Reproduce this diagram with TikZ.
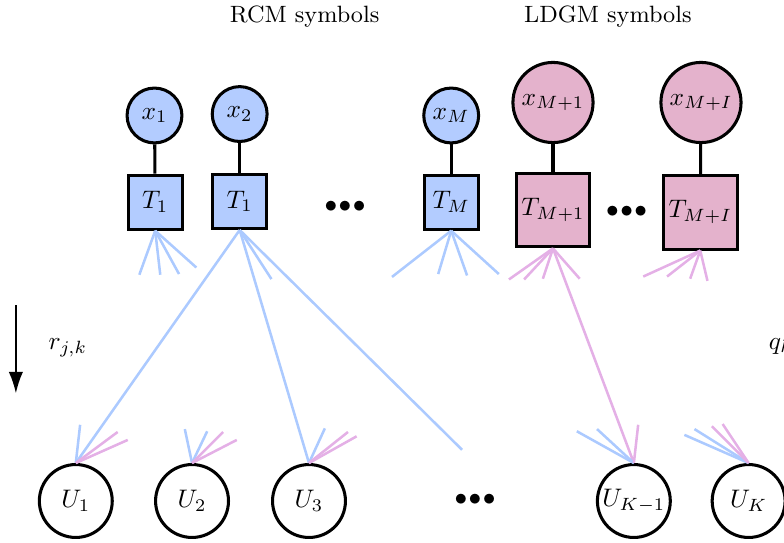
\documentclass[tikz,border=0pt]{standalone}
\usepackage{amsmath}
\usepackage{tikz}
\usetikzlibrary{arrows.meta}

\definecolor{rcmblue}{RGB}{179,204,255}
\definecolor{ldgmpink}{RGB}{228,178,204}
\definecolor{rcmline}{RGB}{172,202,255}
\definecolor{ldgmline}{RGB}{228,176,230}

\begin{document}
\begin{tikzpicture}[
        very thick,
        every node/.style={font=\fontsize{10.4}{12}\selectfont},
        header/.style={font=\fontsize{9.3}{11}\selectfont},
        var/.style={circle, draw, very thick, inner sep=1pt},
        rcm var/.style={var, fill=rcmblue, minimum size=0.76cm},
        ldgm var/.style={var, fill=ldgmpink, minimum size=1.11cm},
        check/.style={rectangle, draw, very thick, inner sep=1pt},
        rcm check/.style={check, fill=rcmblue, minimum size=0.75cm},
        ldgm check/.style={check, fill=ldgmpink, minimum size=1.02cm},
        user/.style={circle, draw, very thick, inner sep=0pt, minimum size=1.01cm},
        rcm edge/.style={draw=rcmline, line width=1pt},
        ldgm edge/.style={draw=ldgmline, line width=1pt}
    ]
        \useasboundingbox (0,0) rectangle (10.86,7.51);
        \clip (0,0) rectangle (10.86,7.51);

        \node[header] (rcm)  at (4.22, 7.28) {RCM symbols};
        \node[header] (ldgm) at (8.42, 7.28) {LDGM symbols};

        % symbols
        \node[rcm var]  (x1)  at (2.14, 5.91) {$x_1$};
        \node[rcm var]  (x2)  at (3.32, 5.93) {$x_2$};
        \node[rcm var]  (xM)  at (6.25, 5.91) {$x_M$};
        \node[ldgm var] (xM1) at (7.66, 6.09) {$x_{M+1}$};
        \node[ldgm var] (xMI) at (9.71, 6.09) {$x_{M+I}$};

        \node[rcm check]  (t1a) at (2.15, 4.71) {$T_1$};
        \node[rcm check]  (t1b) at (3.32, 4.72) {$T_1$};
        \node[rcm check]  (tM)  at (6.25, 4.71) {$T_M$};
        \node[ldgm check] (tM1) at (7.66, 4.60) {$T_{M+1}$};
        \node[ldgm check] (tMI) at (9.70, 4.57) {$T_{M+I}$};

        \node (d1) at (4.78, 4.64) {$\bullet\!\bullet\!\bullet$};
        \node (d2) at (8.68, 4.57) {$\bullet\!\bullet\!\bullet$};

        % users
        \node[user] (u1)  at (1.05, 0.57) {$U_1$};
        \node[user] (u2)  at (2.66, 0.57) {$U_2$};
        \node[user] (u3)  at (4.28, 0.57) {$U_3$};
        \node (d3) at (6.58, 0.58) {$\bullet\!\bullet\!\bullet$};
        \node[user] (uK1) at (8.78, 0.57) {$U_{K-1}$};
        \node[user] (uK)  at (10.37, 0.57) {$U_K$};

        \draw (x1) -- (t1a);
        \draw (x2) -- (t1b);
        \draw (xM) -- (tM);
        \draw (xM1) -- (tM1);
        \draw (xMI) -- (tMI);

        % edges
        \draw[rcm edge] (t1b.south) -- (u1.north);
        \draw[rcm edge] (t1b.south) -- (u3.north);
        \coordinate (open) at (6.40, 1.28);
        \draw[rcm edge] (t1b.south) -- (open);
        \draw[rcm edge] (t1b.south) -- ++(0.44,-0.68);
        \draw[ldgm edge] (tM1.south) -- (uK1.north);

        \foreach \dx/\dy in {-0.22/-0.61, 0.07/-0.61, 0.33/-0.60, 0.57/-0.51}
            \draw[rcm edge] (t1a.south) -- ++(\dx,\dy);
        \foreach \dx/\dy in {-0.82/-0.64, -0.18/-0.60, 0.22/-0.62, 0.66/-0.60}
            \draw[rcm edge] (tM.south) -- ++(\dx,\dy);
        \foreach \dx/\dy in {-0.61/-0.43, -0.40/-0.43, -0.14/-0.42, 0.37/-0.42}
            \draw[ldgm edge] (tM1.south) -- ++(\dx,\dy);
        \foreach \dx/\dy in {-0.79/-0.36, -0.46/-0.36, -0.14/-0.39, 0.10/-0.42}
            \draw[ldgm edge] (tMI.south) -- ++(\dx,\dy);

        \draw[rcm edge] (u1.north) -- ++(0.06,0.53);
        \foreach \dx/\dy in {0.58/0.43, 0.72/0.32}
            \draw[ldgm edge] (u1.north) -- ++(\dx,\dy);
        \foreach \dx/\dy in {-0.10/0.47, 0.21/0.44}
            \draw[rcm edge] (u2.north) -- ++(\dx,\dy);
        \foreach \dx/\dy in {0.43/0.43, 0.62/0.32}
            \draw[ldgm edge] (u2.north) -- ++(\dx,\dy);
        \draw[rcm edge] (u3.north) -- ++(0.22,0.48);
        \foreach \dx/\dy in {0.54/0.43, 0.66/0.37}
            \draw[ldgm edge] (u3.north) -- ++(\dx,\dy);
        \foreach \dx/\dy in {-0.79/0.44, -0.51/0.47}
            \draw[rcm edge] (uK1.north) -- ++(\dx,\dy);
        \draw[ldgm edge] (uK1.north) -- ++(0.06,0.53);
        \foreach \dx/\dy in {-0.89/0.39, -0.75/0.47}
            \draw[rcm edge] (uK.north) -- ++(\dx,\dy);
        \foreach \dx/\dy in {-0.51/0.51, -0.36/0.54}
            \draw[ldgm edge] (uK.north) -- ++(\dx,\dy);

        % message directions
        \coordinate (down top) at (0.22, 3.28);
        \coordinate (down end) at (0.22, 2.06);
        \draw[thick, -{Latex[length=3mm, width=2mm]}] (down top) -- (down end);
        \node (r) at (0.94, 2.69) {$r_{j,k}$};
        \node[anchor=west, inner sep=0pt] (q) at (10.63, 2.70) {$q_{k,j}$};
\end{tikzpicture}
\end{document}
